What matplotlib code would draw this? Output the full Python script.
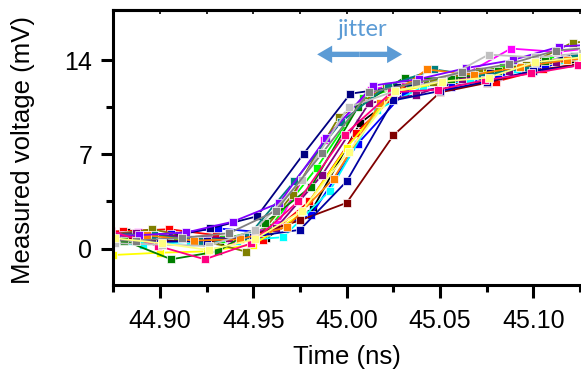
import numpy as np
import matplotlib.pyplot as plt
from matplotlib.patches import FancyArrowPatch

# sampling grid (ns); every trace is shifted by its own offset (the jitter)
sample_times = [44.850, 44.875, 44.900, 44.925, 44.950, 44.975,
                45.000, 45.025, 45.050, 45.075, 45.100, 45.125]

# measured voltage (mV) for each trace
v_white   = [0.6, 0.5, 0.4, 0.3, 1.3, 6.5, 11.0, 12.0, 12.6, 13.4, 14.0, 14.5]
v_black   = [1.2, 1.27, 1.0, 0.6, 0.8, 3.0, 9.3, 11.9, 12.5, 13.2, 13.6, 14.0]
v_red     = [1.2, 1.3, 1.44, 1.0, 0.65, 3.5, 8.6, 11.9, 12.3, 12.4, 13.3, 13.8]
v_blue    = [0.8, 1.0, 1.1, 1.5, 1.2, 2.5, 7.8, 11.6, 12.0, 12.8, 13.5, 14.3]
v_lime    = [0.9, 1.0, 0.8, 0.7, 1.6, 6.0, 11.2, 12.2, 12.7, 13.5, 14.0, 14.4]
v_cyan    = [0.4, 0.3, 0.5, 0.6, 0.85, 4.3, 10.3, 12.0, 12.5, 13.3, 14.0, 14.3]
v_magenta = [1.1, 1.2, 0.8, 0.6, 1.8, 8.1, 11.8, 12.5, 12.9, 14.85, 14.6, 15.0]
v_yellow  = [0.2, -0.47, -0.3, -0.2, 0.3, 2.5, 7.5, 11.6, 12.3, 13.0, 13.6, 14.0]
v_olive   = [1.0, 1.44, 0.7, -0.22, 4.0, 9.8, 12.0, 12.4, 13.2, 13.6, 15.3, 15.5]
v_navy1   = [0.8, 0.9, 0.8, 1.5, 2.4, 7.05, 11.5, 12.0, 12.4, 13.0, 13.8, 14.5]
v_purple  = [1.0, 1.15, 0.9, 0.8, 1.5, 5.5, 10.8, 11.4, 12.6, 13.2, 13.85, 14.2]
v_wine    = [0.7, 0.8, 0.6, 0.5, 1.0, 2.1, 3.4, 8.4, 11.6, 12.3, 13.2, 13.7]
v_green   = [0.5, 0.6, -0.79, -0.2, 1.9, 4.6, 10.5, 12.7, 12.6, 13.2, 13.9, 14.3]
v_teal    = [1.1, 1.0, 0.6, 0.9, 5.0, 9.4, 12.1, 13.3, 12.8, 13.5, 14.3, 14.6]
v_navy2   = [0.6, 0.7, 0.5, 0.6, 0.9, 1.4, 5.0, 11.0, 11.7, 12.4, 13.2, 13.6]
v_orange  = [0.9, 1.0, 0.6, 0.7, 1.6, 5.2, 10.8, 13.3, 12.9, 13.5, 14.0, 14.3]
v_violet  = [0.9, 1.0, 1.2, 2.0, 3.4, 8.2, 12.1, 12.6, 13.4, 14.0, 15.0, 15.2]
v_pink    = [1.3, 0.2, -0.79, 0.4, 3.5, 8.47, 11.6, 11.8, 12.5, 13.0, 13.6, 14.0]
v_ltgray  = [0.5, 0.4, 0.3, 0.2, 1.4, 5.1, 10.5, 11.7, 12.5, 14.4, 14.2, 14.5]
v_gray    = [0.6, 0.6, 0.8, 1.15, 2.8, 7.1, 11.6, 12.3, 13.1, 13.7, 14.7, 15.0]
v_ltyel   = [0.8, 0.77, 0.4, -0.1, 0.7, 2.8, 7.2, 11.7, 12.4, 12.7, 13.85, 14.2]

# time offset of each trace (ns)
offsets = [0.010, 0.007, 0.005, 0.006, 0.009, 0.016, 0.013, 0.000, 0.021, 0.002, 0.012,
           0.000, 0.006, 0.022, 0.000, 0.018, 0.014, 0.024, 0.001, 0.012, 0.001]

traces = [v_white, v_black, v_red, v_blue, v_lime, v_cyan, v_magenta, v_yellow, v_olive,
          v_navy1, v_purple, v_wine, v_green, v_teal, v_navy2, v_orange, v_violet, v_pink,
          v_ltgray, v_gray, v_ltyel]

colors = ['#FFFFFF', '#000000', '#FF0000', '#0000FF', '#00FF00', '#00FFFF', '#FF00FF',
          '#FFFF00', '#808000', '#000080', '#800080', '#800000', '#008000', '#008080',
          '#0000A0', '#FF8000', '#8000FF', '#FF0080', '#C0C0C0', '#808080', '#FFFF80']

xmajor = [44.90, 44.95, 45.00, 45.05, 45.10]
xminor = [44.875, 44.925, 44.975, 45.025, 45.075, 45.125]

plt.rcParams['font.family'] = ['Liberation Sans', 'DejaVu Sans']

fig = plt.figure(figsize=(5.81, 3.76), dpi=100)
ax = fig.add_axes([0.195, 0.2412, 0.8033, 0.7314])

t = np.array(sample_times)
for vals, dt, c in zip(traces, offsets, colors):
    ax.plot(t + dt, vals, '-s', color=c, lw=1.3, ms=5.8,
            markeredgecolor='white', markeredgewidth=0.5)

ax.set_xlim(44.875, 45.125)
ax.set_ylim(-2.72, 17.69)
ax.set_xticks(xmajor)
ax.set_xticklabels(['44.90', '44.95', '45.00', '45.05', '45.10'])
ax.set_xticks(xminor, minor=True)
ax.set_yticks([0, 7, 14])
ax.set_yticks([3.5, 10.5], minor=True)

for s in ['left', 'bottom', 'top']:
    ax.spines[s].set_linewidth(2.2)
ax.spines['right'].set_visible(False)
ax.tick_params(which='major', direction='out', length=9, width=2.2, labelsize=18, pad=6)
ax.tick_params(which='minor', direction='out', length=5, width=2.2)
ax.tick_params(axis='x', which='major', pad=8)

# small inward ticks on the top edge
top = ax.secondary_xaxis('top')
top.set_xticks(xmajor)
top.set_xticks(xminor, minor=True)
top.tick_params(which='both', direction='in', length=3, width=1.2, labeltop=False)
top.spines['top'].set_linewidth(2.2)

fig.text(346.5 / 581, 1 - 357 / 376, 'Time (ns)', ha='center', va='center', fontsize=18.5)
fig.text(23 / 581, 1 - 150 / 376, 'Measured voltage (mV)', ha='center', va='center',
         rotation=90, fontsize=18.5)

# jitter arrow
arrow_col = '#5B9BD5'
mid = 45.007
for end in [44.9842, 45.0297]:
    ax.add_patch(FancyArrowPatch((mid, 14.42), (end, 14.42),
                                 arrowstyle='simple,head_length=0.9,head_width=1.05,tail_width=0.32',
                                 mutation_scale=12, lw=0, color=arrow_col, shrinkA=0, shrinkB=0,
                                 zorder=5))
ax.text(45.0084, 16.28, 'jitter', ha='center', va='center', fontsize=17,
        color=arrow_col, family=['Lato', 'DejaVu Sans'])

fig.savefig('out.png', dpi=100)
